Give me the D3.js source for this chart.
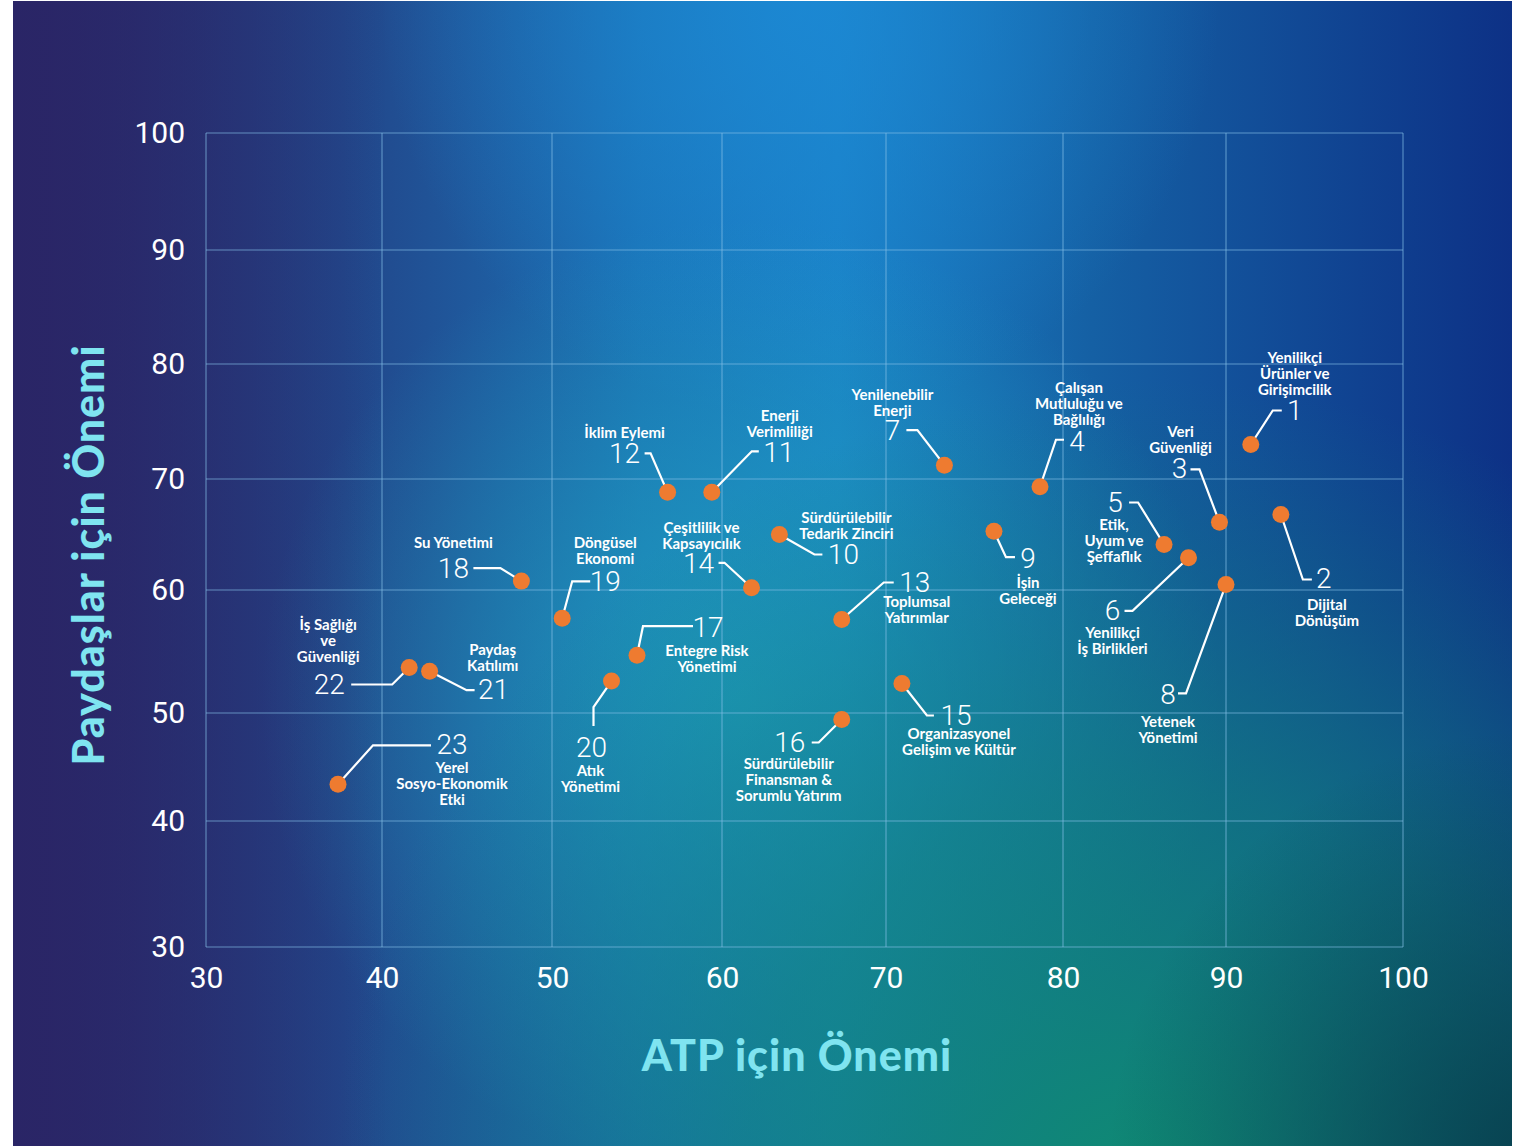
<!DOCTYPE html>
<html><head><meta charset="utf-8">
<script src="https://cdn.jsdelivr.net/npm/d3@7"></script>
<style>html,body{margin:0;padding:0;background:#fff;} svg{display:block}</style>
</head><body>
<svg id="chart" width="1517" height="1146"></svg>
<script>
// ---------- DATA ----------
const topicIds = [1,2,3,4,5,6,7,8,9,10,11,12,13,14,15,16,17,18,19,20,21,22,23];
const topicNames = [
  ["Yenilikçi","Ürünler ve","Girişimcilik"],
  ["Dijital","Dönüşüm"],
  ["Veri","Güvenliği"],
  ["Çalışan","Mutluluğu ve","Bağlılığı"],
  ["Etik,","Uyum ve","Şeffaflık"],
  ["Yenilikçi","İş Birlikleri"],
  ["Yenilenebilir","Enerji"],
  ["Yetenek","Yönetimi"],
  ["İşin","Geleceği"],
  ["Sürdürülebilir","Tedarik Zinciri"],
  ["Enerji","Verimliliği"],
  ["İklim Eylemi"],
  ["Toplumsal","Yatırımlar"],
  ["Çeşitlilik ve","Kapsayıcılık"],
  ["Organizasyonel","Gelişim ve Kültür"],
  ["Sürdürülebilir","Finansman &","Sorumlu Yatırım"],
  ["Entegre Risk","Yönetimi"],
  ["Su Yönetimi"],
  ["Döngüsel","Ekonomi"],
  ["Atık","Yönetimi"],
  ["Paydaş","Katılımı"],
  ["İş Sağlığı","ve","Güvenliği"],
  ["Yerel","Sosyo-Ekonomik","Etki"]
];
const atpImportance = [91.4,93.1,89.6,78.7,86.2,87.7,73.3,90.0,76.1,63.5,59.4,56.8,67.3,61.8,70.9,67.3,55.0,48.2,50.6,53.5,42.8,41.6,37.5];
const stakeholderImportance = [73.0,66.8,66.1,69.3,64.1,62.9,71.2,60.5,65.3,65.0,68.8,68.8,57.6,60.2,52.4,49.4,54.7,60.8,57.7,52.6,53.4,53.7,43.4];
const xTicks = [30,40,50,60,70,80,90,100];
const yTicks = [30,40,50,60,70,80,90,100];
const xTitle = "ATP için Önemi";
const yTitle = "Paydaşlar için Önemi";

// ---------- ANNOTATION LAYOUT (pixel offsets from each dot) ----------
// [kneeDx,kneeDy, endDx,endDy, numDx,numDy, nameDx,nameDy]
const labelLayout = [
  [22,-34, 31,-34, 44,-34, 44,-88],
  [22,65, 31,65, 43,64, 46,89],
  [-20,-53, -29,-53, -40,-54, -39,-91],
  [16,-47, 24,-47, 37,-45, 39,-100],
  [-26,-42, -35,-42, -49,-42, -50,-20],
  [-56,53, -64,53, -76,53, -76,74],
  [-27,-35, -38,-35, -52,-35, -52,-71],
  [-40,109, -48,109, -58,110, -58,137],
  [12,26, 21,26, 34,27, 34,51],
  [35,20, 43,20, 64,20, 67,-18],
  [40,-41, 47,-41, 67,-40, 68,-77],
  [-17,-39, -23,-39, -43,-39, -43,-60],
  [42,-37, 52,-37, 73,-37, 75,-19],
  [-27,-25, -33,-25, -53,-24, -50,-61],
  [25,32, 32,32, 54,32, 57,50],
  [-23,23, -30,23, -52,23, -53,44],
  [6,-29, 56,-29, 71,-28, 70,-5],
  [-21,-13, -48,-13, -68,-13, -68,-39],
  [10,-37, 28,-37, 43,-37, 43,-76],
  [-18,26, -18,45, -20,66, -21,89],
  [37,19, 45,19, 64,18, 63,-22],
  [-17,17, -58,17, -80,17, -81,-43],
  [35,-39, 93,-39, 114,-40, 114,-17]
];

// ---------- DRAW ----------
const svg = d3.select("#chart");
const defs = svg.append("defs");

function linGrad(id, x1,y1,x2,y2, stops){
  const g = defs.append("linearGradient").attr("id",id)
    .attr("x1",x1).attr("y1",y1).attr("x2",x2).attr("y2",y2);
  stops.forEach(s=>g.append("stop").attr("offset",s[0]).attr("stop-color",s[1]).attr("stop-opacity",s[2]===undefined?1:s[2]));
}
function radGrad(id, cx,cy,r, stops){
  const g = defs.append("radialGradient").attr("id",id)
    .attr("gradientUnits","userSpaceOnUse").attr("cx",cx).attr("cy",cy).attr("r",r);
  stops.forEach(s=>g.append("stop").attr("offset",s[0]).attr("stop-color",s[1]).attr("stop-opacity",s[2]===undefined?1:s[2]));
}
linGrad("bgBase","0%","0%","100%","0%",[["0%","#2a2668"],["22%","#22468a"],["42%","#1b72b6"],["55%","#1a80c6"],["72%","#1560a4"],["100%","#0d3186"]]);
radGrad("topGlow",800,0,420,[["0%","#1c8ad6",0.8],["100%","#1c8ad6",0]]);
radGrad("centerGlow",740,700,480,[["0%","#1fa2bc",0.8],["100%","#1fa2bc",0]]);
radGrad("tealGlow",1150,1200,820,[["0%","#0f8c72",1],["50%","#10807a",0.65],["100%","#107580",0]]);
radGrad("darkCorner",1540,1160,430,[["0%","#073d4a",0.9],["100%","#073d4a",0]]);
linGrad("leftShade","0%","0%","100%","0%",[["0%","#2a2566",0.9],["25%","#2a2566",0]]);

const bg = svg.append("g");
const bx=13, by=1, bw=1499, bh=1145;
["bgBase","topGlow","centerGlow","tealGlow","darkCorner","leftShade"].forEach(id=>{
  bg.append("rect").attr("x",bx).attr("y",by).attr("width",bw).attr("height",bh).attr("fill",`url(#${id})`);
});

// scales (gridlines in the reference are not perfectly even; piecewise-linear)
const x = d3.scaleLinear().domain(xTicks).range([206,382,552,722,886,1063,1226,1403]);
const y = d3.scaleLinear().domain(yTicks).range([947,821,713,590,479,364,250,133]);

// grid
const grid = svg.append("g").attr("stroke","#86c0e6").attr("stroke-opacity",0.65).attr("stroke-width",1.1);
grid.selectAll("line.v").data(xTicks).join("line").attr("class","v")
  .attr("x1",d=>x(d)).attr("x2",d=>x(d)).attr("y1",y(100)).attr("y2",y(30));
grid.selectAll("line.h").data(yTicks).join("line").attr("class","h")
  .attr("y1",d=>y(d)).attr("y2",d=>y(d)).attr("x1",x(30)).attr("x2",x(100));

// axes labels via d3 axes
const xAxis = svg.append("g").attr("transform",`translate(0,${y(30)})`)
  .call(d3.axisBottom(x).tickValues(xTicks).tickSize(0).tickPadding(20).tickFormat(d3.format("d")));
const yAxis = svg.append("g").attr("transform",`translate(${x(30)},0)`)
  .call(d3.axisLeft(y).tickValues(yTicks).tickSize(0).tickPadding(21).tickFormat(d3.format("d")));
[xAxis,yAxis].forEach(a=>{
  a.select(".domain").remove();
  a.selectAll("text").attr("fill","#ffffff").attr("font-family","Roboto, 'Open Sans', sans-serif")
   .attr("font-size",30).attr("font-weight",400);
});

// axis titles
svg.append("text").attr("x",797).attr("y",1071).attr("text-anchor","middle")
  .attr("font-family","Lato, 'Open Sans', sans-serif").attr("font-weight",900).attr("font-size",43)
  .attr("letter-spacing",1).attr("fill","#7fe4f0").text(xTitle);
svg.append("text").attr("transform","translate(104,555) rotate(-90)").attr("text-anchor","middle")
  .attr("font-family","Lato, 'Open Sans', sans-serif").attr("font-weight",900).attr("font-size",43)
  .attr("letter-spacing",1).attr("fill","#7fe4f0").text(yTitle);

// annotation data
const topics = topicIds.map((id,i)=>({
  id, name: topicNames[i], x: atpImportance[i], y: stakeholderImportance[i], lay: labelLayout[i]
}));

const ann = svg.append("g");
const line = d3.line();
ann.selectAll("path.leader").data(topics).join("path").attr("class","leader")
  .attr("d",d=>{
    const px=x(d.x), py=y(d.y), L=d.lay;
    return line([[px,py],[px+L[0],py+L[1]],[px+L[2],py+L[3]]]);
  })
  .attr("fill","none").attr("stroke","#ffffff").attr("stroke-width",2.2).attr("stroke-linejoin","miter");

ann.selectAll("text.num").data(topics).join("text").attr("class","num")
  .attr("x",d=>x(d.x)+d.lay[4]).attr("y",d=>y(d.y)+d.lay[5])
  .attr("text-anchor","middle").attr("dominant-baseline","central")
  .attr("font-family","Roboto, sans-serif").attr("font-weight",300).attr("font-size",28)
  .attr("fill","#ffffff").text(d=>d.id);

const nameG = ann.selectAll("text.name").data(topics).join("text").attr("class","name")
  .attr("text-anchor","middle")
  .attr("font-family","Lato, 'Open Sans', sans-serif").attr("font-weight",700).attr("font-size",15)
  .attr("fill","#ffffff");
nameG.selectAll("tspan").data(d=>d.name.map((t,k)=>({t,k,d}))).join("tspan")
  .attr("x",o=>x(o.d.x)+o.d.lay[6]).attr("y",o=>y(o.d.y)+o.d.lay[7]+o.k*16)
  .attr("dominant-baseline","central").text(o=>o.t);

// dots
svg.append("g").selectAll("circle").data(topics).join("circle")
  .attr("cx",d=>x(d.x)).attr("cy",d=>y(d.y)).attr("r",8.5)
  .attr("fill","#ee7b30");
</script>
</body></html>
